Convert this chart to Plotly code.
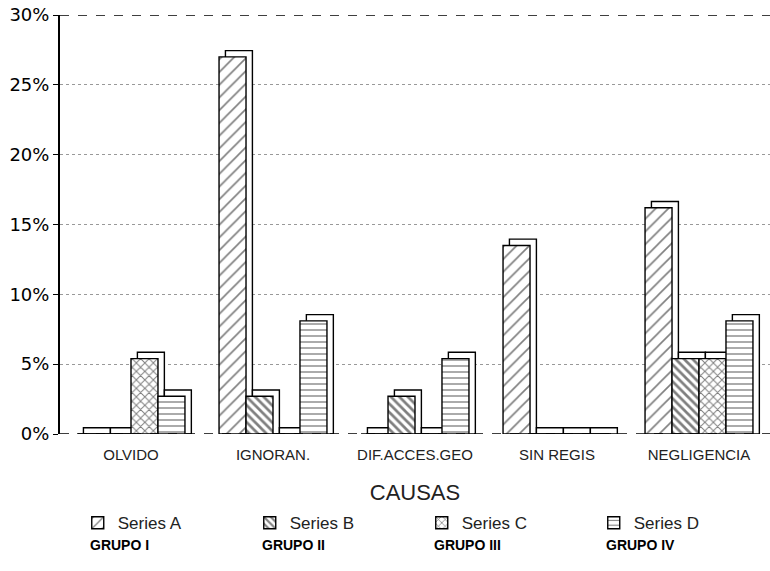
import plotly.graph_objects as go

# Causes on the category axis
causas = ["OLVIDO", "IGNORAN.", "DIF.ACCES.GEO", "SIN REGIS", "NEGLIGENCIA"]

# Percentages per group (series)
serie_a = [0.0, 27.0, 0.0, 13.5, 16.2]
serie_b = [0.0, 2.7, 2.7, 0.0, 5.4]
serie_c = [5.4, 0.0, 0.0, 0.0, 5.4]
serie_d = [2.7, 8.1, 5.4, 0.0, 8.1]

series_names = ["Series A", "Series B", "Series C", "Series D"]
grupos = ["GRUPO I", "GRUPO II", "GRUPO III", "GRUPO IV"]
y_ticks = [0, 5, 10, 15, 20, 25, 30]
y_tick_labels = ["0%", "5%", "10%", "15%", "20%", "25%", "30%"]

series_values = [serie_a, serie_b, serie_c, serie_d]
patterns = [
    dict(shape="/", size=9, solidity=0.18),
    dict(shape="\\", size=6, solidity=0.45),
    dict(shape="x", size=6, solidity=0.3),
    dict(shape="-", size=6, solidity=0.22),
]

# bar geometry in category units, plus a small "depth" for the box effect
bar_w = 0.19
depth_x = 0.045
depth_y = 0.45
start = -2 * bar_w

fig = go.Figure()
for i, (name, vals, pat) in enumerate(zip(series_names, series_values, patterns)):
    off = start + i * bar_w
    # back face of the box (shifted right and up)
    fig.add_trace(go.Bar(
        x=causas, y=[v + depth_y for v in vals], base=0,
        offset=off + depth_x, width=bar_w,
        marker=dict(color="white", line=dict(color="black", width=1.4)),
        showlegend=False, hoverinfo="skip",
    ))
    # front face with hatching
    fig.add_trace(go.Bar(
        x=causas, y=vals, name=name,
        offset=off, width=bar_w,
        marker=dict(
            color="white",
            line=dict(color="black", width=1.4),
            pattern=dict(fgcolor="black", bgcolor="white", **pat),
        ),
    ))

plot_w = 770 - 60
leg_x = 0.025
entry_w = 127          # text width of each legend entry (px)
item_step = entry_w + 45  # full step between legend entries (px)

annotations = []
for i, g in enumerate(grupos):
    annotations.append(dict(
        text=f"<b>{g}</b>", xref="paper", yref="paper",
        x=leg_x + (10 + i * item_step) / plot_w, y=-0.265,
        xanchor="left", yanchor="middle", showarrow=False,
        font=dict(family="Liberation Sans", size=14, color="black"),
    ))

fig.update_layout(
    width=770, height=571,
    margin=dict(l=60, r=0, t=15, b=137),
    barmode="overlay",
    plot_bgcolor="white", paper_bgcolor="white",
    font=dict(family="Liberation Sans", color="black"),
    xaxis=dict(
        type="category", range=[-0.5, 4.5],
        showgrid=False, showline=False, zeroline=False,
        ticks="", ticklabelstandoff=10,
        tickfont=dict(family="Liberation Sans", size=15, color="#222"),
        title=dict(text="CAUSAS", standoff=22,
                   font=dict(family="Liberation Sans", size=22, color="#222")),
    ),
    yaxis=dict(
        range=[0, 30], tickvals=y_ticks, ticktext=y_tick_labels,
        showgrid=True, gridcolor="#999", griddash="dot", gridwidth=1,
        showline=True, linecolor="black", linewidth=2,
        ticks="outside", ticklen=5, tickcolor="black",
        zeroline=False,
        tickfont=dict(family="DejaVu Sans", size=18, color="black"),
    ),
    legend=dict(
        orientation="h", x=leg_x, y=-0.17, xanchor="left", yanchor="top",
        entrywidth=entry_w, entrywidthmode="pixels",
        font=dict(family="Liberation Sans", size=17, color="#222"),
        traceorder="normal",
    ),
    shapes=[
        dict(type="line", xref="paper", yref="y", x0=0, x1=1, y0=0, y1=0,
             line=dict(color="black", width=1.5, dash="dash"), layer="above"),
        dict(type="line", xref="paper", yref="y", x0=0, x1=1, y0=30, y1=30,
             line=dict(color="black", width=1.5, dash="dash"), layer="above"),
    ],
    annotations=annotations,
)

fig.write_html("out.html")
